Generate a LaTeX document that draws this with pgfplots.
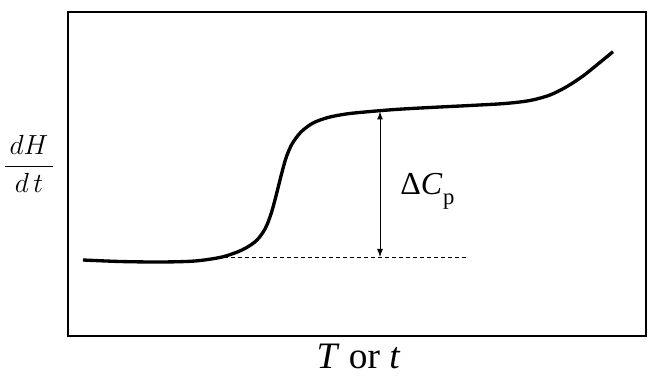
\documentclass[border=0pt]{standalone}
\usepackage{pgfplots}
\pgfplotsset{compat=1.18}
\usepackage{fontspec}
\setmainfont{Liberation Serif}
\usetikzlibrary{arrows.meta}
\begin{document}
\begin{tikzpicture}
\begin{axis}[
  scale only axis,
  width=433.5pt, height=243pt,
  xmin=68, xmax=646, ymin=12, ymax=336,
  y dir=reverse,
  xtick=\empty, ytick=\empty,
  axis line style={line width=2.1pt},
  clip=false,
]
\path (axis cs:0,0) rectangle (axis cs:671,388);
\addplot[black, line width=2.5pt, smooth, tension=0.5] coordinates {
(83,260)(120,261.5)(160,262)(195,261)(222,257)(242,250)(256,241)(265,229)(271,214)(276,196)(281,176)(286,158)(292,144)(301,132)(313,123)(328,117.5)(346,114)(365,112)(395,109.5)(430,107.5)(470,105.5)(505,103.5)(530,100.5)(550,95)(567,86.5)(583,76)(598,64)(613,51.7)
};
\addplot[black, line width=0.75pt, dash pattern=on 3pt off 2.25pt] coordinates {(224,257.5)(467,257.5)};
\draw[line width=0.75pt, {Latex[length=6pt,width=4.5pt]}-{Latex[length=6pt,width=4.5pt]}] (axis cs:380,111.5) -- (axis cs:380,257);
\node[anchor=base west, inner sep=0pt] at (axis cs:400,195) {\fontsize{24}{29}\selectfont Δ\textit{C}\kern0.5pt\raisebox{-7pt}{\fontsize{17}{20}\selectfont p}};
\node[anchor=base, inner sep=0pt] at (axis cs:358.5,368) {\fontsize{28}{33}\selectfont\textit{T} or \textit{t}};
\node[anchor=center, inner sep=0pt] at (axis cs:29,164) {\fontsize{20.5}{24}\selectfont$\displaystyle\frac{\,dH\,}{\,d\,t\,}$};
\end{axis}
\end{tikzpicture}
\end{document}
